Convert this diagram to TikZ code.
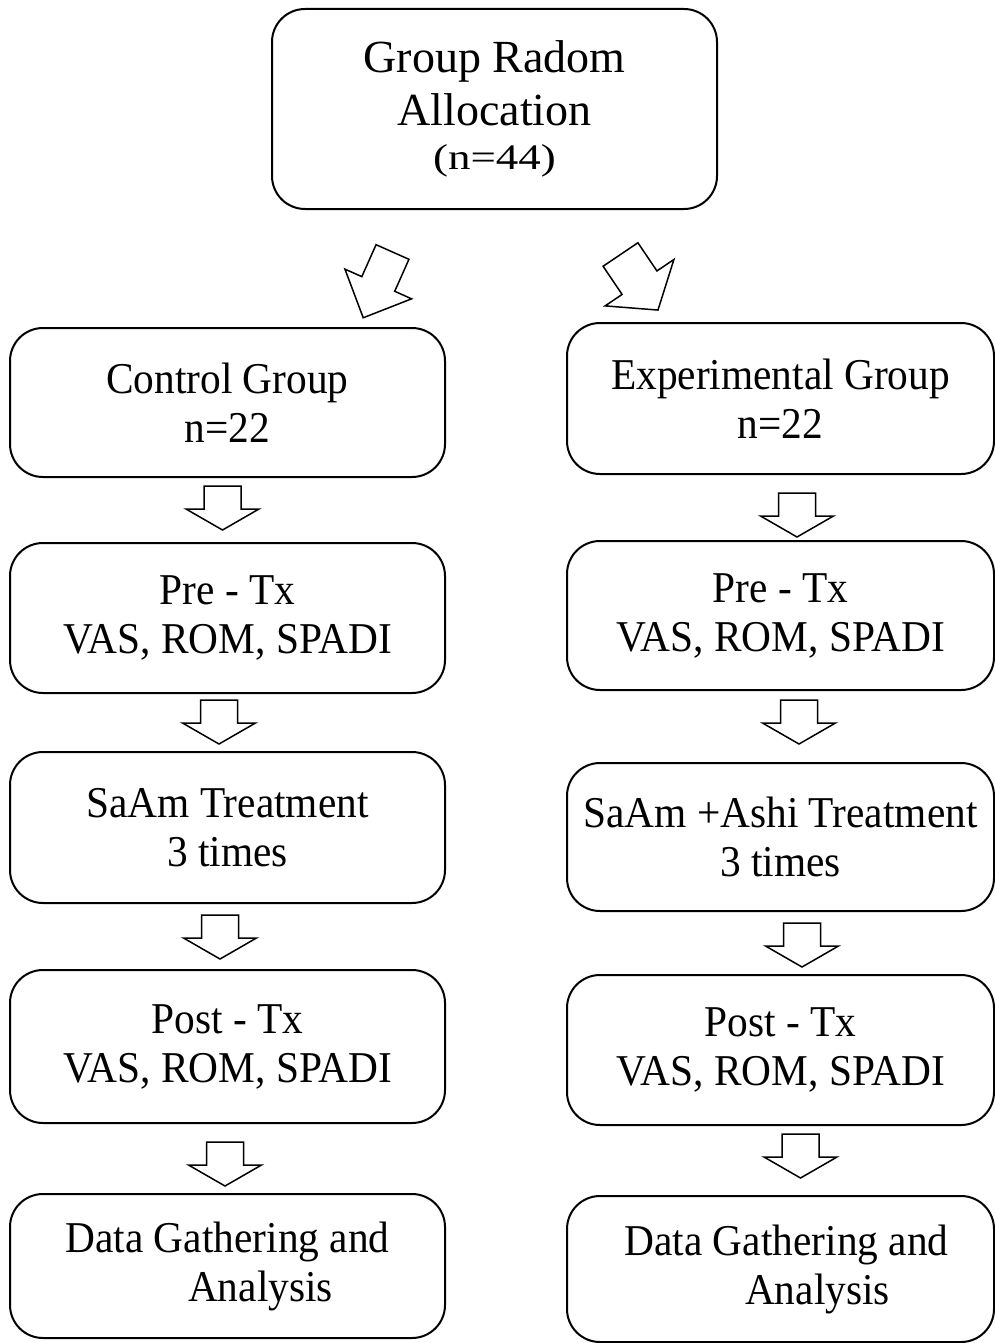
\documentclass[tikz,border=0pt]{standalone}
\usepackage{fontspec}
\setmainfont{Liberation Serif}
\newfontfamily\boxfont[FakeStretch=0.94]{Liberation Serif}
\newfontfamily\widefont[FakeStretch=1.25]{Liberation Serif}
\usetikzlibrary{calc}
\tikzset{
	stepbox/.style = {draw, rounded corners=33pt, line width=2pt, align=center,
		inner sep=0pt, font=\boxfont\fontsize{44}{49}\selectfont},
	leftbox/.style = {stepbox, minimum width=435pt},% left column
	rightbox/.style = {stepbox, minimum width=427pt},% right column
	arrowline/.style = {draw, line width=1.5pt, fill=white, line join=miter},
	pics/blockarrow/.style n args = {4}{code={
		\path[arrowline] (-#2,0) -- (#2,0) -- (#2,#1-#4) -- (#3,#1-#4) -- (0,#1)
			-- (-#3,#1-#4) -- (-#2,#1-#4) -- cycle;
	}},
	pics/downarrow/.style = {code={\pic {blockarrow={44}{18.5}{36.5}{21}};}}
}
\begin{document}
\begin{tikzpicture}[x=1pt, y=-1pt]
	\useasboundingbox (0,0) rectangle (995,1343);
	\node[stepbox, minimum width=445pt, minimum height=200pt,
		font=\rmfamily\fontsize{46}{53}\selectfont] (alloc) at (494.5,109)
		{Group Radom\\Allocation\\[-9pt]{\widefont\fontsize{36}{41}\selectfont (n=44)}};
	% control group
	\node[leftbox, minimum height=149pt] (ctrl) at (227.5,402.5) {Control Group\\n=22};
	\node[leftbox, minimum height=150pt] (preL) at (227.5,618) {Pre - Tx\\VAS, ROM, SPADI};
	\node[leftbox, minimum height=151pt] (trtL) at (227.5,827.5) {SaAm Treatment\\3 times};
	\node[leftbox, minimum height=153pt] (postL) at (227.5,1046.5) {Post - Tx\\VAS, ROM, SPADI};
	\node[leftbox, minimum height=144pt] (dataL) at (227.5,1266)
		{Data Gathering and\\\hspace*{66pt}Analysis};
	% experimental group
	\node[rightbox, minimum height=151pt] (expR) at (780.5,398.5) {Experimental Group\\n=22};
	\node[rightbox, minimum height=149pt] (preR) at (780.5,615.5) {Pre - Tx\\VAS, ROM, SPADI};
	\node[rightbox, minimum height=148pt] (trtR) at (780.5,837) {SaAm +Ashi Treatment\\3 times};
	\node[rightbox, minimum height=150pt] (postR) at (780.5,1050) {Post - Tx\\VAS, ROM, SPADI};
	\node[rightbox, minimum height=146pt] (dataR) at (780.5,1269)
		{\hspace*{12pt}Data Gathering and\\\hspace*{74pt}Analysis};
	% allocation arrows
	\pic[rotate=-24] at ($(alloc.south)+(-102,42)$) {blockarrow={72}{18}{36.5}{37}};
	\pic[rotate=34] at ($(alloc.south)+(126,44.5)$) {blockarrow={67}{21}{41.5}{33}};
	% step arrows
	\pic at ($(ctrl.south)+(-5,8)$) {downarrow};
	\pic at ($(preL.south)+(-8.5,6)$) {downarrow};
	\pic at ($(trtL.south)+(-7.5,11)$) {downarrow};
	\pic at ($(postL.south)+(-2.5,18)$) {downarrow};
	\pic at ($(expR.south)+(16.5,18)$) {downarrow};
	\pic at ($(preR.south)+(18.5,9)$) {downarrow};
	\pic at ($(trtR.south)+(21.5,11)$) {downarrow};
	\pic at ($(postR.south)+(20,8)$) {downarrow};
\end{tikzpicture}
\end{document}
